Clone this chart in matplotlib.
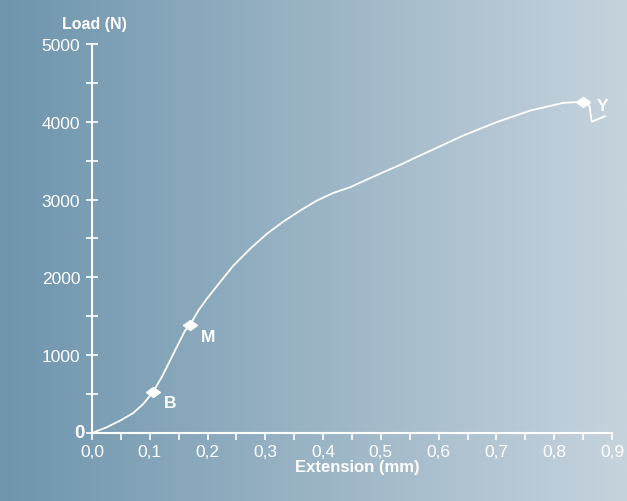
import numpy as np
import matplotlib
matplotlib.use("Agg")
import matplotlib.pyplot as plt
from matplotlib.colors import LinearSegmentedColormap
from matplotlib.ticker import MultipleLocator, FuncFormatter
from matplotlib.path import Path

plt.rcParams['font.family'] = ['Liberation Sans', 'DejaVu Sans']

# Aflæste punkter på kurven (forlængelse i mm, last i N)
extension = [0.0, 0.0254, 0.0485, 0.0715, 0.0888, 0.1059, 0.1206, 0.1350,
             0.1494, 0.1610, 0.1696, 0.184, 0.1985, 0.2215, 0.2446, 0.2734,
             0.3023, 0.3311, 0.360, 0.3889, 0.4176, 0.4465, 0.4754, 0.5042,
             0.5331, 0.562, 0.585, 0.642, 0.700, 0.758, 0.815, 0.850,
             0.861, 0.865, 0.888]
load = [0, 73, 158, 257, 373, 531, 716, 929,
        1144, 1315, 1388, 1572, 1722, 1937, 2150, 2365,
        2558, 2716, 2857, 2986, 3085, 3158, 3256, 3351,
        3445, 3547, 3625, 3821, 3994, 4143, 4242, 4258,
        4207, 4001, 4071]

# Markerede punkter
point_names = ['B', 'M', 'Y']
point_x = [0.1059, 0.1696, 0.850]
point_y = [531, 1388, 4258]

fig = plt.figure(figsize=(6.27, 5.02), dpi=100)

# Baggrund med vandret farveovergang
bg = fig.add_axes([0, 0, 1, 1], zorder=-1)
cmap = LinearSegmentedColormap.from_list('bg', ['#6e95ad', '#c6d3dd'])
bg.imshow(np.linspace(0, 1, 256).reshape(1, -1), aspect='auto', cmap=cmap,
          extent=[0, 1, 0, 1])
bg.axis('off')

ax = fig.add_axes([0.1467, 0.1355, 0.8293, 0.7749])
ax.set_facecolor('none')

# flad rude som markør
diamond = Path([(-1, 0), (0, 0.72), (1, 0), (0, -0.72), (-1, 0)],
               [Path.MOVETO, Path.LINETO, Path.LINETO, Path.LINETO, Path.CLOSEPOLY])

ax.plot(extension, load, color='white', linewidth=1.3, zorder=3)
ax.plot(point_x, point_y, linestyle='none', marker=diamond, markersize=10,
        color='white', zorder=4)
for name, px, py in zip(point_names, point_x, point_y):
    if name == 'Y':
        ax.annotate(name, (px, py), xytext=(10, -3), textcoords='offset points',
                    color='white', fontsize=12.5, fontweight='bold', va='center')
    else:
        ax.annotate(name, (px, py), xytext=(8, -8), textcoords='offset points',
                    color='white', fontsize=12.5, fontweight='bold', va='center')

ax.set_xlim(0, 0.9)
ax.set_ylim(0, 5000)

for side in ['top', 'right']:
    ax.spines[side].set_visible(False)
for side in ['left', 'bottom']:
    ax.spines[side].set_color('white')
    ax.spines[side].set_linewidth(1.5)

ax.xaxis.set_major_locator(MultipleLocator(0.1))
ax.xaxis.set_minor_locator(MultipleLocator(0.05))
ax.yaxis.set_major_locator(MultipleLocator(1000))
ax.yaxis.set_minor_locator(MultipleLocator(500))

ax.xaxis.set_major_formatter(FuncFormatter(lambda v, p: f'{v:.1f}'.replace('.', ',')))
ax.yaxis.set_major_formatter(FuncFormatter(lambda v, p: '' if v == 0 else f'{v:.0f}'))

ax.tick_params(axis='x', which='both', direction='out', length=5, width=1.2,
               colors='white', labelsize=12.5, pad=3)
ax.tick_params(axis='y', which='both', direction='inout', length=9, width=1.2,
               colors='white', labelsize=12.5, pad=4)

ax.text(-0.015, 0, '0', transform=ax.get_yaxis_transform(), ha='right',
        va='center', color='white', fontsize=13.5, fontweight='bold')

fig.text(0.151, 0.952, 'Load (N)', ha='center', va='center', color='white',
         fontsize=11.5, fontweight='bold')
fig.text(0.57, 0.069, 'Extension (mm)', ha='center', va='center', color='white',
         fontsize=12, fontweight='bold')

fig.savefig('out.png', dpi=100)
